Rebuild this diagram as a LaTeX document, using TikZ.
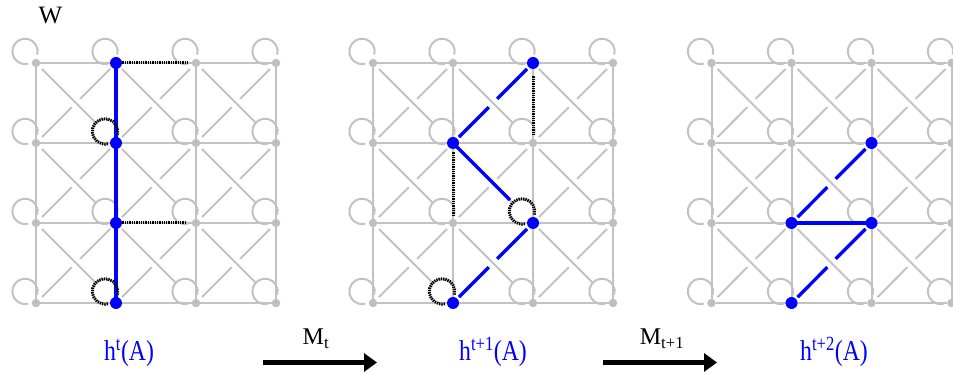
\documentclass[tikz,border=0pt]{standalone}
\usepackage{fontspec}
\setmainfont{Liberation Serif}
\usetikzlibrary{arrows.meta,calc,backgrounds}

% edge that is broken at its middle (the under-crossing diagonal)
\newcommand\crossedge[3]{%
  \draw[#1, shorten <=4pt] (#2) -- ($(#2)!0.447!(#3)$);
  \draw[#1, shorten >=4pt] ($(#2)!0.553!(#3)$) -- (#3);}
% self loop above left of a node
\newcommand\selfloop[2]{%
  \draw[#1] (#2.center) ++(-11,11.6) ++(-15:12.7) arc[start angle=-15, end angle=285, radius=12.7];}

\begin{document}
\begin{tikzpicture}[
  x=1pt, y=1pt,
  dot/.style={circle, fill=black!25, inner sep=0pt, minimum size=8.5pt},
  hot/.style={circle, fill=blue, inner sep=0pt, minimum size=12pt},
  wire/.style={line width=2pt, black!24},
  trail/.style={line width=3.3pt, blue},
  dots/.style={line width=3pt, black, dash pattern=on 1.3pt off 1pt},
  move/.style={-{Triangle[length=13pt,width=18pt]}, line width=4.8pt, black},
  lbl/.style={font=\fontsize{25}{30}\selectfont, text=blue, anchor=base},
  mlbl/.style={font=\fontsize{24}{28}\selectfont, anchor=base},
]
  \useasboundingbox (0,0) rectangle (953,374);

  % three copies of the 4x4 lattice
  \foreach \p/\x in {1/36, 2/373, 3/711.5} {
    \foreach \c in {1,...,4}
      \foreach \r in {1,...,4}
        \node[dot] (p\p-\c-\r) at ({\x+80*(\c-1)}, {391-80*\r}) {};
  }
  \begin{scope}[on background layer]
    \foreach \p in {1,2,3} {
      \foreach \c in {1,...,4}
        \foreach \r/\s in {1/2,2/3,3/4}
          \draw[wire] (p\p-\c-\r) -- (p\p-\c-\s);
      \foreach \c/\d in {1/2,2/3,3/4}
        \foreach \r in {1,...,4}
          \draw[wire] (p\p-\c-\r) -- (p\p-\d-\r);
      \foreach \c/\d in {1/2,2/3,3/4}
        \foreach \r/\s in {1/2,2/3,3/4} {
          \draw[wire, shorten <=4pt, shorten >=24pt] (p\p-\c-\r) -- (p\p-\d-\s);
          \crossedge{wire}{p\p-\c-\s}{p\p-\d-\r}
        }
      \foreach \c in {1,...,4}
        \foreach \r in {1,...,4} {
          \selfloop{wire}{p\p-\c-\r}
        }
    }
  \end{scope}

  % h^t(A)
  \draw[trail] (p1-2-1) -- (p1-2-4);
  \draw[dots, shorten <=2pt, shorten >=3pt] (p1-2-1) -- (p1-3-1);
  \draw[dots, shorten <=2pt, shorten >=6pt] (p1-2-3) -- (p1-3-3);
  \selfloop{dots}{p1-2-2}
  \selfloop{dots}{p1-2-4}
  \foreach \n in {p1-2-1, p1-2-2, p1-2-3, p1-2-4}
    \node[hot] at (\n) {};

  % h^{t+1}(A)
  \crossedge{trail}{p2-2-2}{p2-3-1}
  \crossedge{trail}{p2-2-4}{p2-3-3}
  \draw[trail, shorten >=28pt] (p2-2-2) -- (p2-3-3);
  \draw[dots, shorten <=9pt, shorten >=4pt] (p2-3-1) -- (p2-3-2);
  \draw[dots, shorten <=5pt, shorten >=2pt] (p2-2-2) -- (p2-2-3);
  \selfloop{dots}{p2-3-3}
  \selfloop{dots}{p2-2-4}
  \foreach \n in {p2-3-1, p2-2-2, p2-3-3, p2-2-4}
    \node[hot] at (\n) {};

  % h^{t+2}(A)
  \crossedge{trail}{p3-2-3}{p3-3-2}
  \crossedge{trail}{p3-2-4}{p3-3-3}
  \draw[trail] (p3-2-3) -- (p3-3-3);
  \foreach \n in {p3-3-2, p3-2-3, p3-3-3, p3-2-4}
    \node[hot] at (\n) {};

  \node[mlbl, font=\fontsize{25}{30}\selectfont] (wname) at (50.5,350) {W};

  \node[lbl] (h0) at (129,13.5) {\scalebox{0.95}[1.15]{h\textsuperscript{t}(A)}};
  \node[lbl] (h1) at (493,13.5) {\scalebox{0.95}[1.15]{h\textsuperscript{t+1}(A)}};
  \node[lbl] (h2) at (834,13.5) {\scalebox{0.95}[1.15]{h\textsuperscript{t+2}(A)}};

  \coordinate (m0a) at (263,11.5);
  \coordinate (m0b) at (377,11.5);
  \coordinate (m1a) at (603,11.5);
  \coordinate (m1b) at (717,11.5);
  \draw[move] (m0a) -- (m0b);
  \draw[move] (m1a) -- (m1b);
  \node[mlbl] (mt0) at (316,29.7) {M\textsubscript{t}};
  \node[mlbl] (mt1) at (662,29.7) {M\textsubscript{t+1}};
\end{tikzpicture}
\end{document}
